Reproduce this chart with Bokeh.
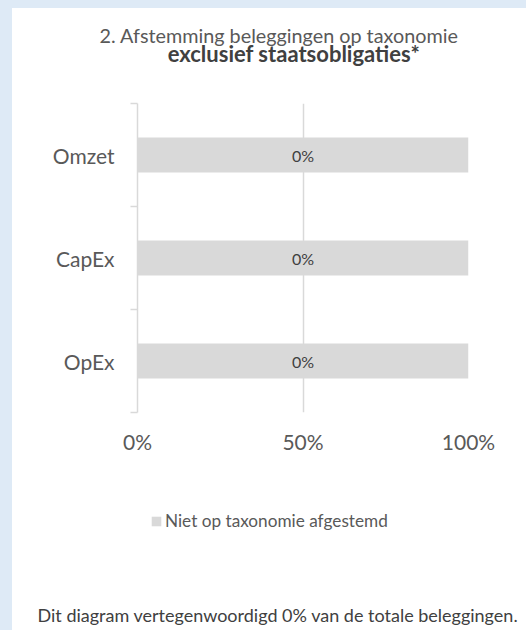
from bokeh.plotting import figure
from bokeh.layouts import column
from bokeh.models import (Range1d, FixedTicker, Legend, LegendItem,
                          ColumnDataSource, GlobalInlineStyleSheet)
from bokeh.core.properties import value
from bokeh.embed import file_html
from bokeh.resources import INLINE

# ---- data ----
categories = ["OpEx", "CapEx", "Omzet"]          # bottom to top
aligned = [0, 0, 0]                               # % op taxonomie afgestemd
not_aligned = [100, 100, 100]                     # % niet op taxonomie afgestemd
x_ticks = [0, 50, 100]
x_tick_labels = ["0%", "50%", "100%"]
series_name = "Niet op taxonomie afgestemd"
title_1 = "2. Afstemming beleggingen op taxonomie"
title_2 = "exclusief staatsobligaties*"
footer = "Dit diagram vertegenwoordigd 0% van de totale beleggingen."

FONT = "Lato"
GREY = "#d9d9d9"
TXT = "#595959"
DARK = "#404040"

W = 514
H_TOP, H_MAIN, H_BOT = 85, 382, 155
ML, MR, MT, MB = 125, 58, 10, 63


def blank(h):
    f = figure(width=W, height=h, output_backend="svg", toolbar_location=None,
               title=None, x_range=Range1d(0, W), y_range=Range1d(h, 0),
               x_axis_location=None, y_axis_location=None, min_border=0,
               outline_line_color=None, background_fill_color="white",
               border_fill_color="white", frame_align=False)
    f.xgrid.visible = False
    f.ygrid.visible = False
    return f


# ---- top: titles ----
top = blank(H_TOP)
top.text(x=[266.5], y=[26], text=[title_1], text_align="center",
         text_baseline="alphabetic", text_font=value(FONT),
         text_font_size="19.8px", text_color=TXT)
top.text(x=[281.5], y=[44.5], text=[title_2], text_align="center",
         text_baseline="alphabetic", text_font=value(FONT),
         text_font_size="22px", text_font_style="bold", text_color=DARK)

# ---- main chart ----
ypos = list(range(len(categories)))
src = ColumnDataSource(dict(
    y=ypos, cat=categories, right=not_aligned,
    lab=[f"{v}%" for v in aligned],
    mid=[v / 2 for v in not_aligned],
))

p = figure(width=W, height=H_MAIN, output_backend="svg", toolbar_location=None,
           title=None,
           x_range=Range1d(0, 100), y_range=Range1d(-0.5, len(categories) - 0.5),
           min_border_left=ML, min_border_right=MR, min_border_top=MT,
           min_border_bottom=MB, background_fill_color="white",
           border_fill_color="white", outline_line_color=None,
           frame_align=False)

bars = p.hbar(y="y", left=0, right="right", height=0.34, source=src,
              fill_color=GREY, line_color=None)
p.text(x="mid", y="y", text="lab", source=src, text_align="center",
       text_baseline="middle", text_font=value(FONT), text_font_size="16px",
       text_color=DARK)

p.ygrid.visible = False
p.xgrid.ticker = FixedTicker(ticks=[50, 100])
p.xgrid.grid_line_color = GREY
p.xgrid.grid_line_width = 1.5

xa = p.xaxis[0]
xa.ticker = FixedTicker(ticks=x_ticks)
xa.major_label_overrides = {t: l for t, l in zip(x_ticks, x_tick_labels)}
xa.axis_line_color = None
xa.major_tick_line_color = None
xa.minor_tick_line_color = None
xa.major_tick_out = 0
xa.major_tick_in = 0
xa.minor_tick_out = 0
xa.major_label_standoff = 16
xa.major_label_text_font = FONT
xa.major_label_text_font_size = "21px"
xa.major_label_text_color = TXT

ya = p.yaxis[0]
ya.ticker = FixedTicker(ticks=ypos, minor_ticks=[i - 0.5 for i in range(len(categories) + 1)])
ya.major_label_overrides = {i: c for i, c in zip(ypos, categories)}
ya.axis_line_color = GREY
ya.axis_line_width = 1.5
ya.major_tick_line_color = None
ya.major_tick_out = 0
ya.major_tick_in = 0
ya.minor_tick_line_color = GREY
ya.minor_tick_line_width = 1.5
ya.minor_tick_out = 7
ya.minor_tick_in = 0
ya.major_label_standoff = 16
ya.major_label_text_font = FONT
ya.major_label_text_font_size = "21px"
ya.major_label_text_color = TXT

# ---- bottom: legend + footnote ----
bot = blank(H_BOT)
# the bar series again, on a y range that keeps it out of view: only its
# legend swatch shows in this panel
bot.extra_y_ranges = {"swatch": Range1d(10, 11)}
legend_glyph = bot.hbar(y="y", left=0, right="right", height=0.34, source=src,
                        y_range_name="swatch", fill_color=GREY, line_color=None)
legend = Legend(items=[LegendItem(label=series_name, renderers=[legend_glyph])],
                location=(138, 99), orientation="horizontal", padding=0,
                margin=0, spacing=0, glyph_width=12, glyph_height=12,
                label_standoff=3, label_text_font=FONT,
                label_text_font_size="17.2px", label_text_color=TXT,
                border_line_color=None, background_fill_alpha=0)
bot.add_layout(legend, "center")
bot.text(x=[265.5], y=[139.5], text=[footer], text_align="center",
         text_baseline="alphabetic", text_font=value(FONT),
         text_font_size="18px", text_color=DARK)

layout = column(top, p, bot, spacing=0)
layout.stylesheets = [GlobalInlineStyleSheet(
    css="html { margin: 0; background-color: #deeaf6; } "
        "body { background-color: #deeaf6; margin: 8px 0 0 8px; }")]
layout.styles = {"margin-left": "4px", "background-color": "white"}

open("out.html", "w").write(file_html(layout, INLINE))
